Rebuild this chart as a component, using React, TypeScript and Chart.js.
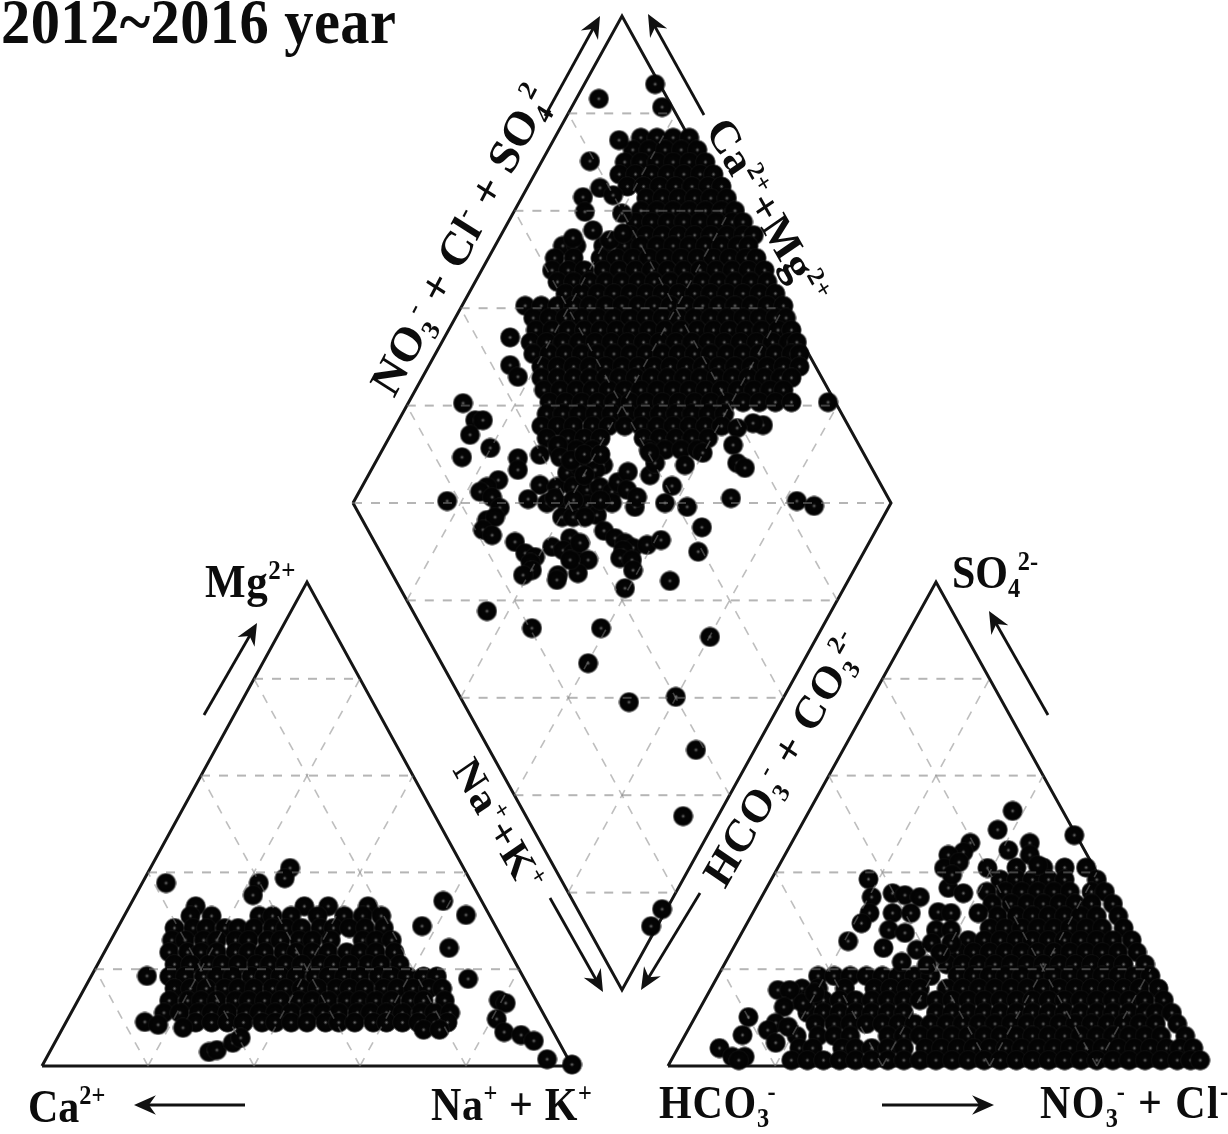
import React, { useEffect, useRef } from "react";
import { Chart, registerables } from "chart.js";

Chart.register(...registerables);

const gridLevels = [20, 40, 60, 80];
const diamondHorizontalLevels = [20, 40, 60, 80, 100, 120, 140, 160, 180];

// Cation triangle: Mg2+ percent, then the position along the Ca2+ -> Na+ + K+ base at that level
const cationMg = [33, 31, 28.5, 26, 23.5, 21, 18.5, 16, 13.5, 11, 9, 7.5];
const cationBase = [
  [29, 49.5, 54, 61.5],
  [28, 32, 41, 43.5, 47, 52, 57, 60.5, 64],
  [25, 28.5, 31, 34.5, 37, 40, 43.5, 46, 49, 52.5, 55, 58, 61, 64.5],
  [24.5, 27, 30.5, 33, 36.5, 39, 42.5, 45, 48.5, 51, 54.5, 60.5, 63, 66],
  [24, 27.5, 30, 33, 36.5, 39, 42, 45.5, 48, 51, 54, 57.5, 60, 63, 66.5],
  [25, 28, 31.5, 34, 37, 40.5, 43, 46, 49, 52.5, 55, 58, 61.5, 64, 67.5],
  [24, 27, 30.5, 33, 36, 39.5, 42, 45, 48, 51.5, 54, 57, 60, 63.5, 66, 69, 72, 74.5],
  [25, 28, 31, 34.5, 37, 40, 43.5, 46, 49, 52, 55.5, 58, 61, 64.5, 67, 70, 73, 75.5],
  [24, 27.5, 30, 33, 36.5, 39, 42, 45, 48.5, 51, 54, 57.5, 60, 63, 66, 69.5, 72, 76],
  [23, 26, 29.5, 32, 35, 38.5, 41, 44, 47, 50.5, 53, 56, 59.5, 62, 65, 68, 71.5, 74, 77],
  [29, 32, 35, 38, 41.5, 44, 47, 50, 53.5, 56, 59, 62.5, 65, 68, 71, 74, 76.5],
  [72, 75],
];
const cationOutliers = [
  [23.4, 37.8], [40.9, 37.8], [39.8, 35.3], [46.8, 40.9], [45.8, 38.8], [75.7, 34.1],
  [80, 31.2], [71.7, 28.9], [76.8, 24.4], [80.4, 18], [19.8, 18.6], [86.2, 13.6],
  [87.5, 13], [85.8, 9.7], [87.2, 7], [90.4, 6.4], [92.8, 5.2], [95.3, 1.4], [100, 0.3],
  [31.5, 2.9], [33, 3.3], [36, 4.8], [37.5, 5.8], [19.4, 9.1], [21.9, 8.5], [26.6, 7.9],
];

// Anion triangle: SO4 2- percent, then the position along the HCO3- -> NO3- + Cl- base at that level
const anionSo4 = [41, 38.5, 36, 33.5, 31, 28.5, 26, 23.5, 21, 18.6, 16, 13.6, 11, 8.7, 6.2, 3.7, 1.2];
const anionBase = [
  [65, 70, 74, 78],
  [62, 65, 68, 71, 74, 80],
  [59.5, 63, 66, 69, 72, 75, 79, 81.5],
  [60.5, 64, 67, 70, 73, 76, 79, 83],
  [61.5, 65, 68, 71, 74, 77, 80, 84],
  [60, 63, 66, 69, 72, 75, 78, 81, 85],
  [56, 59, 62, 65, 68, 71, 74, 77, 80, 83, 86.5],
  [54, 57, 60, 63, 66, 69, 72, 75, 78, 81, 84, 87.5],
  [52, 55, 58, 61, 64, 67, 70, 73, 76, 79, 82, 85, 89],
  [28, 31, 34, 37, 40, 43, 46, 49, 54, 57, 60, 63, 66, 69, 72, 75, 78, 81, 84, 87, 90],
  [25, 28, 33, 38.5, 41.5, 44.5, 47, 52, 55, 58, 61, 64, 67, 70, 73, 76, 79, 82, 85, 88, 91.5],
  [23, 26, 29, 32, 35, 38, 41, 44, 47, 50, 53, 56, 59, 62, 65, 68, 71, 74, 77, 80, 83, 86, 89, 92.5],
  [26, 29, 32, 35, 38, 41, 44, 50, 53, 56, 59, 62, 65, 68, 71, 74, 77, 80, 83, 86, 89, 91, 94],
  [27.5, 31, 34, 37, 40, 43, 46, 49, 52, 55, 58, 61, 64, 67, 70, 73, 76, 79, 82, 85, 88, 91, 95],
  [24, 28, 31, 34, 41, 44, 47, 50, 53, 56, 59, 62, 65, 68, 71, 74, 77, 80, 83, 86, 89, 92, 96.5],
  [24.5, 27, 32.5, 35, 38, 41, 44, 48, 51, 54, 57, 60, 63, 66, 69, 72, 75, 78, 81, 84, 87, 90, 93, 95.5, 98],
  [23, 26, 29, 32, 35, 38, 41, 44, 47, 50, 53, 56, 59, 62, 65, 68, 71, 74, 77, 80, 83, 86, 89, 92, 95, 97.5, 99.3],
];
const anionOutliers = [
  [64.3, 52.7], [61.5, 48.8], [63.5, 44.6], [75.8, 47.7], [67.5, 46.1], [67.5, 43.6], [69, 41.5],
  [56.4, 46.1], [55.1, 44.2], [52.3, 43.6], [51.5, 40.9], [54.3, 42.1], [52.3, 36.8], [55.1, 35.7],
  [57.9, 31.6], [53, 39.5], [59.6, 40.9], [37.4, 38.6], [38, 34.9], [37.6, 31.6], [36.1, 29.5],
  [33.6, 25.8], [41.9, 35.7], [44.2, 35.3], [47, 34.9], [41.9, 31.6], [45.3, 31.6], [41.2, 28.1],
  [40.2, 24.4], [44.2, 27.5], [46.4, 24], [50.4, 31.8], [52.8, 31.6], [50, 28.1], [52.8, 28.1],
  [49.2, 25.4], [52.8, 25.4], [50.8, 23.3], [48.3, 20.9], [43.6, 21.5], [20.5, 15.7], [22.7, 15.7],
  [21.6, 12.2], [25.2, 13], [27.4, 15.1], [20.1, 8.9], [22.4, 8.1], [18.6, 7.4], [20.1, 4.8],
  [15, 10.1], [13.9, 6.4], [9.6, 3.7], [12, 1.9], [14.3, 1.9], [13.2, 1.2],
];

// Diamond: anion + cation sum, then anion minus cation at that sum
const diamondSum = [
  175, 172.5, 170, 167.5, 165, 162.6, 160, 157.7, 155, 152.8, 150.3, 147.8, 145.4, 143, 140.5, 138,
  135.5, 133, 130.6, 128, 125.7, 123.2, 120.7, 118.3, 115.8, 113.3, 110.9,
];
const diamondDiff = [
  [7, 13, 19, 25],
  [4, 10, 16, 22, 28],
  [1, 7, 13, 19, 25, 31],
  [-1, 5, 11, 17, 23, 29, 34],
  [2, 8, 14, 20, 26, 32, 37],
  [9, 15, 21, 27, 33, 39],
  [7, 13, 19, 25, 31, 37, 42],
  [5, 11, 17, 23, 29, 35, 41, 45],
  [3, 9, 15, 21, 27, 33, 39, 45, 49],
  [-22, -17, -7, 1, 7, 13, 19, 25, 31, 37, 43, 47],
  [-25, -18, -8, -2, 4, 10, 16, 22, 28, 34, 40, 46, 50],
  [-26, -20, -14, -7, -1, 5, 11, 17, 23, 29, 35, 41, 47, 53],
  [-24, -18, -12, -6, 0, 6, 12, 18, 24, 30, 36, 42, 48, 54],
  [-21, -15, -9, -3, 3, 9, 15, 21, 27, 33, 39, 45, 51, 57],
  [-36, -30, -24, -18, -12, -6, 0, 6, 12, 18, 24, 30, 36, 42, 48, 54, 60],
  [-33, -27, -21, -15, -9, -3, 3, 9, 15, 21, 27, 33, 39, 45, 51, 57, 61],
  [-32, -26, -20, -14, -8, -2, 4, 10, 16, 22, 28, 34, 40, 46, 52, 58, 63],
  [-34, -28, -22, -16, -10, -4, 2, 8, 14, 20, 26, 32, 38, 44, 50, 56, 62, 65],
  [-33, -27, -21, -15, -9, -3, 3, 9, 15, 21, 27, 33, 39, 45, 51, 57, 63, 66],
  [-30, -24, -18, -12, -6, 0, 6, 12, 18, 24, 30, 36, 42, 48, 54, 60, 66],
  [-30, -24, -18, -12, -6, -1, 5, 11, 17, 23, 29, 35, 41, 47, 53, 59, 63],
  [-29, -23, -17, -11, -5, 1, 7, 13, 19, 25, 31, 37, 43, 49, 55, 60],
  [-27, -21, -15, -9, -3, 3, 9, 15, 21, 27, 33, 39, 45, 51, 57, 63],
  [-28, -22, -16, -10, -4, 2, 8, 14, 20, 26, 32, 38],
  [-30, -24, -18, -11, -5, 1, 7, 13, 19, 25, 31, 37],
  [-28, -20, -14, -8, 8, 14, 20, 26, 32],
  [-24, -17, -11, 10, 16, 22, 28],
];
const diamondOutliers = [
  [-8.6, 183], [12.3, 186], [14.9, 181.3], [-11.9, 170.2], [-1.1, 174.5], [-14.5, 162.8], [-8.2, 164.7],
  [-3.3, 163.2], [-13.8, 159.8], [0, 159.5], [-10.8, 156], [-18.2, 154.4], [-4.5, 154], [0.4, 155.4],
  [-41.6, 128.3], [-38.7, 125.9], [-41.6, 134], [76.6, 120.7], [52.4, 116], [48.7, 116.4], [42.8, 115.4],
  [41.3, 111.9], [42.8, 108.2], [45.7, 107.2], [-59.1, 120.5], [-54.6, 117], [-51.7, 117], [-56.5, 114],
  [-49, 111.3], [-59.5, 109.4], [-38.7, 109.2], [-38.7, 106.8], [-65, 100.4], [-46, 104.7], [-50.2, 103.3],
  [-52.8, 102.3], [-48.3, 101.2], [-45.4, 99], [-50.2, 96.5], [-47.2, 97.1], [-51.7, 94.5], [-48.3, 93.4],
  [-30.5, 109.9], [-23.8, 111.9], [-23, 109.4], [-30.5, 103.7], [-34.9, 100.8], [-27.9, 100], [-24.2, 103.3],
  [-20.4, 106.2], [-15.6, 107.4], [-7, 107.8], [-10, 106.8], [-18.2, 103.3], [-13, 102.7], [-8.2, 103.3],
  [-3.7, 102.3], [-3.7, 100], [-1.5, 104.3], [2.2, 106.4], [1.9, 102.7], [4.8, 99.2], [5.6, 101.2],
  [-20.4, 99.6], [-13, 99.6], [-9.3, 97.5], [-22.3, 97.1], [-18.2, 97.1], [-13.8, 97.1], [-25, 101],
  [-18, 100.6], [-8, 100.6], [-14, 105.7], [-19, 108.8], [-14, 110], [-8, 110], [10.4, 105.7], [12.3, 108.2],
  [18.6, 103.5], [16, 100], [24.2, 99.2], [40.5, 101], [65, 100.4], [71.4, 99.4], [29.7, 95], [28.3, 90],
  [10.4, 110.3], [23.4, 107.8], [30, 110.3], [-6.7, 94.3], [-2.6, 92.8], [1.1, 91.8], [4.1, 90.8], [9.3, 91.4],
  [14.5, 92.4], [0.4, 90.3], [-0.7, 88.7], [3.7, 88.3], [4.1, 86.2], [1.1, 82.5], [17.8, 84], [-39.8, 92],
  [-36, 89.7], [-32.3, 88.9], [-34, 87.7], [-33.5, 86.2], [-36.8, 85.2], [-26, 91], [-19.3, 92.8], [-21.9, 90.3],
  [-18.2, 89.7], [-15.6, 91.8], [-12.6, 88.3], [-16.4, 85.6], [-23.8, 85.2], [-24.2, 84.2], [-19.3, 88.3],
  [-50.2, 77.8], [-33.5, 74.3], [-7.8, 74.3], [32.7, 72.5], [-12.6, 67.1], [2.6, 59.1], [20, 60.2],
  [27.5, 49.3], [22.7, 35.7], [14.9, 16.6], [10.8, 13.1],
];

const titleText = "2012~2016 year";

const W = 1228;
const H = 1134;
const SERIF = '"Liberation Serif", "Times New Roman", serif';

type Run = { t: string; k?: "sup" | "sub" };
type Lab = { x: number; y: number; a: number; size: number; runs: Run[]; sp?: number };

const labels: Lab[] = [
  { x: 1, y: 43, a: 0, size: 58.5, sp: 0.42, runs: [{ t: titleText }] },
  { x: 28, y: 1122, a: 0, size: 42, runs: [{ t: "Ca" }, { t: "2+", k: "sup" }] },
  { x: 431, y: 1120, a: 0, size: 42, sp: 0.6, runs: [{ t: "Na" }, { t: "+", k: "sup" }, { t: " + K" }, { t: "+", k: "sup" }] },
  { x: 205, y: 597, a: 0, size: 43, sp: 0.6, runs: [{ t: "Mg" }, { t: "2+", k: "sup" }] },
  { x: 952, y: 588, a: 0, size: 42, runs: [{ t: "SO" }, { t: "4", k: "sub" }, { t: "2-", k: "sup" }] },
  { x: 659, y: 1118, a: 0, size: 42, sp: 0.8, runs: [{ t: "HCO" }, { t: "3", k: "sub" }, { t: "-", k: "sup" }] },
  { x: 1040, y: 1118, a: 0, size: 42, sp: 1.4, runs: [{ t: "NO" }, { t: "3", k: "sub" }, { t: "-", k: "sup" }, { t: " + Cl" }, { t: "-", k: "sup" }] },
  { x: 394, y: 399, a: -60, size: 44, sp: 0.2, runs: [{ t: "NO" }, { t: "3", k: "sub" }, { t: "-", k: "sup" }, { t: " + Cl" }, { t: "-", k: "sup" }, { t: " + SO" }, { t: "4", k: "sub" }, { t: "2", k: "sup" }] },
  { x: 705, y: 130, a: 58, size: 42, sp: 0.5, runs: [{ t: "Ca" }, { t: "2+", k: "sup" }, { t: "+Mg" }, { t: "2+", k: "sup" }] },
  { x: 452, y: 770, a: 58, size: 40, sp: 1, runs: [{ t: "Na" }, { t: "+", k: "sup" }, { t: "+K" }, { t: "+", k: "sup" }] },
  { x: 725, y: 890, a: -58, size: 42, sp: 1, runs: [{ t: "HCO" }, { t: "3", k: "sub" }, { t: "-", k: "sup" }, { t: " + CO" }, { t: "3", k: "sub" }, { t: "2-", k: "sup" }] },
];

const arrows = [
  [545, 116, 600, 16],
  [704, 115, 648, 14],
  [550, 898, 603, 992],
  [700, 893, 641, 990],
  [204, 715, 257, 623],
  [1048, 715, 989, 611],
  [245, 1105, 134, 1105],
  [882, 1105, 994, 1105],
];

function rowsToPoints(levels: number[], rows: number[][], outliers: number[][]) {
  const pts: { x: number; y: number }[] = [];
  rows.forEach((row, i) => row.forEach((x) => pts.push({ x, y: levels[i] })));
  outliers.forEach(([x, y]) => pts.push({ x, y }));
  return pts;
}

function makeDot() {
  const c = document.createElement("canvas");
  c.width = 21;
  c.height = 21;
  const g = c.getContext("2d")!;
  const grad = g.createRadialGradient(10.5, 10.5, 0, 10.5, 10.5, 10.5);
  grad.addColorStop(0, "rgba(115,115,115,1)");
  grad.addColorStop(0.1, "rgba(60,60,60,1)");
  grad.addColorStop(0.22, "rgba(5,5,5,1)");
  grad.addColorStop(0.84, "rgba(3,3,3,1)");
  grad.addColorStop(0.94, "rgba(20,20,20,0.55)");
  grad.addColorStop(1, "rgba(60,60,60,0)");
  g.fillStyle = grad;
  g.fillRect(0, 0, 21, 21);
  return c;
}

function lineDs(pts: number[][], xAxisID: string, yAxisID: string, kind: "level" | "slant" | "frame", label: string) {
  const frame = kind === "frame";
  return {
    type: "scatter" as const,
    label,
    data: pts.map(([x, y]) => ({ x, y })),
    xAxisID,
    yAxisID,
    showLine: true,
    pointRadius: 0,
    fill: false,
    clip: false,
    tension: 0,
    order: frame ? 3 : 1,
    borderColor: frame ? "#151515" : kind === "level" ? "rgba(120,120,120,0.55)" : "rgba(125,125,125,0.5)",
    borderWidth: frame ? 3 : kind === "level" ? 2 : 1.6,
    borderDash: frame ? [] : [9, 9],
    borderJoinStyle: "miter" as const,
  };
}

function triangleGrid(xAxisID: string, yAxisID: string) {
  const out: any[] = [];
  gridLevels.forEach((k) => {
    out.push(lineDs([[k / 2, k], [100 - k / 2, k]], xAxisID, yAxisID, "level", "level"));
    out.push(lineDs([[k, 0], [k + (100 - k) / 2, 100 - k]], xAxisID, yAxisID, "slant", "rising"));
    out.push(lineDs([[100 - k, 0], [(100 - k) / 2, 100 - k]], xAxisID, yAxisID, "slant", "falling"));
  });
  return out;
}

function diamondGrid() {
  const out: any[] = [];
  diamondHorizontalLevels.forEach((s) => {
    const half = s <= 100 ? s : 200 - s;
    out.push(lineDs([[-half, s], [half, s]], "xD", "yD", "level", "level"));
  });
  gridLevels.forEach((k) => {
    out.push(lineDs([[-k, k], [100 - k, 100 + k]], "xD", "yD", "slant", "rising"));
    out.push(lineDs([[k, k], [k - 100, 100 + k]], "xD", "yD", "slant", "falling"));
  });
  return out;
}

function drawLabel(ctx: CanvasRenderingContext2D, l: Lab) {
  ctx.save();
  ctx.translate(l.x, l.y);
  ctx.scale(1, 1.1);
  ctx.rotate((l.a * Math.PI) / 180);
  ctx.fillStyle = "#0c0c0c";
  ctx.textBaseline = "alphabetic";
  ctx.textAlign = "left";
  let cx = 0;
  let prevSub = 0;
  l.runs.forEach((r) => {
    const small = r.k === "sup" || r.k === "sub";
    const size = small ? l.size * 0.58 : l.size;
    ctx.font = `bold ${size}px ${SERIF}`;
    const dy = r.k === "sup" ? -l.size * 0.38 : r.k === "sub" ? l.size * 0.2 : 0;
    if (r.k === "sup" && prevSub) cx -= prevSub * 0.2;
    (ctx as any).letterSpacing = `${l.sp || 0}px`;
    ctx.fillText(r.t, cx, dy);
    const w = ctx.measureText(r.t).width;
    cx += w;
    prevSub = r.k === "sub" ? w : 0;
  });
  (ctx as any).letterSpacing = "0px";
  ctx.restore();
}

function drawArrow(ctx: CanvasRenderingContext2D, a: number[]) {
  const [x1, y1, x2, y2] = a;
  const ang = Math.atan2(y2 - y1, x2 - x1);
  const back = 24;
  ctx.save();
  ctx.strokeStyle = "#111";
  ctx.fillStyle = "#111";
  ctx.lineWidth = 2.8;
  ctx.beginPath();
  ctx.moveTo(x1, y1);
  ctx.lineTo(x2 - Math.cos(ang) * 8, y2 - Math.sin(ang) * 8);
  ctx.stroke();
  const w = 0.42;
  ctx.beginPath();
  ctx.moveTo(x2, y2);
  ctx.lineTo(x2 - Math.cos(ang - w) * back, y2 - Math.sin(ang - w) * back);
  ctx.lineTo(x2 - Math.cos(ang) * back * 0.62, y2 - Math.sin(ang) * back * 0.62);
  ctx.lineTo(x2 - Math.cos(ang + w) * back, y2 - Math.sin(ang + w) * back);
  ctx.closePath();
  ctx.fill();
  ctx.restore();
}

const annotationPlugin = {
  id: "piperAnnotations",
  afterDraw(chart: any) {
    const ctx = chart.ctx as CanvasRenderingContext2D;
    arrows.forEach((a) => drawArrow(ctx, a));
    labels.forEach((l) => drawLabel(ctx, l));
  },
};

function axis(originPx: number, unitPx: number, sizePx: number, reverse: boolean) {
  return reverse
    ? { type: "linear" as const, display: false, min: (originPx - sizePx) / unitPx, max: originPx / unitPx }
    : { type: "linear" as const, display: false, min: -originPx / unitPx, max: (sizePx - originPx) / unitPx };
}

export default function App() {
  const ref = useRef<HTMLCanvasElement | null>(null);

  useEffect(() => {
    document.body.style.margin = "0";
    const canvas = ref.current!;
    const dot = makeDot();
    const points = (data: { x: number; y: number }[], xAxisID: string, yAxisID: string, label: string) => ({
      type: "scatter" as const,
      label,
      data,
      xAxisID,
      yAxisID,
      order: 2,
      clip: false,
      pointStyle: dot,
      pointRadius: 10,
      pointHoverRadius: 10,
      backgroundColor: "#050505",
      borderColor: "#050505",
      showLine: false,
    });

    const chart = new Chart(canvas, {
      type: "scatter",
      data: {
        datasets: [
          ...triangleGrid("xL", "yL"),
          ...triangleGrid("xR", "yR"),
          ...diamondGrid(),
          lineDs([[0, 0], [100, 0], [50, 100], [0, 0]], "xL", "yL", "frame", "cation frame"),
          lineDs([[0, 0], [100, 0], [50, 100], [0, 0]], "xR", "yR", "frame", "anion frame"),
          lineDs([[-100, 100], [0, 200], [100, 100], [0, 0], [-100, 100]], "xD", "yD", "frame", "diamond frame"),
          points(rowsToPoints(cationMg, cationBase, cationOutliers), "xL", "yL", "Cations"),
          points(rowsToPoints(anionSo4, anionBase, anionOutliers), "xR", "yR", "Anions"),
          points(rowsToPoints(diamondSum, diamondDiff, diamondOutliers), "xD", "yD", "Combined"),
        ],
      },
      options: {
        animation: false,
        responsive: false,
        events: [],
        layout: { padding: 0, autoPadding: false },
        plugins: { legend: { display: false }, tooltip: { enabled: false }, title: { display: false } },
        scales: {
          xL: axis(42, 5.3, W, false),
          yL: axis(1066, 4.84, H, true),
          xR: axis(668, 5.36, W, false),
          yR: axis(1066, 4.84, H, true),
          xD: axis(622, 2.69, W, false),
          yD: axis(990, 4.87, H, true),
        },
      } as any,
      plugins: [annotationPlugin],
    } as any);

    return () => chart.destroy();
  }, []);

  return (
    <canvas
      ref={ref}
      width={W}
      height={H}
      style={{ display: "block", position: "absolute", left: 0, top: 0, width: W, height: H, filter: "blur(0.6px)" }}
    />
  );
}
